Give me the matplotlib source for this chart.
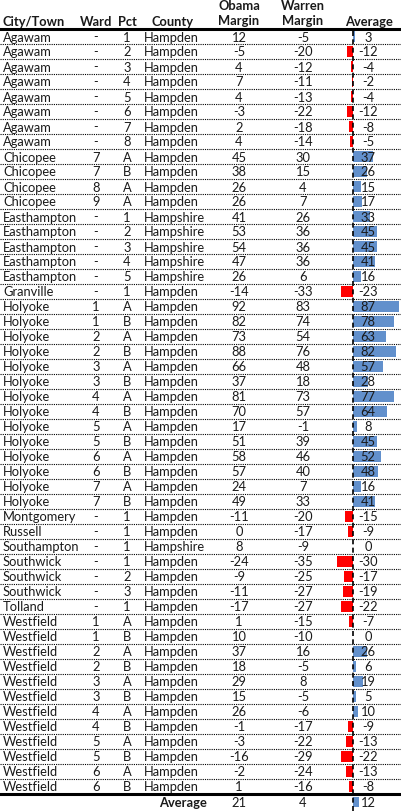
import numpy as np
import matplotlib
matplotlib.use('Agg')
import matplotlib.pyplot as plt

plt.rcParams['font.family'] = ['Lato', 'DejaVu Sans']

# ---- table data ----
towns = ['Agawam'] * 8 + ['Chicopee'] * 4 + ['Easthampton'] * 5 + ['Granville'] + \
        ['Holyoke'] * 14 + ['Montgomery', 'Russell', 'Southampton'] + ['Southwick'] * 3 + \
        ['Tolland'] + ['Westfield'] * 12
wards = ['-'] * 8 + ['7', '7', '8', '9'] + ['-'] * 6 + \
        ['1', '1', '2', '2', '3', '3', '4', '4', '5', '5', '6', '6', '7', '7'] + \
        ['-'] * 7 + ['1', '1', '2', '2', '3', '3', '4', '4', '5', '5', '6', '6']
pcts = ['1', '2', '3', '4', '5', '6', '7', '8'] + ['A', 'B', 'A', 'A'] + \
       ['1', '2', '3', '4', '5'] + ['1'] + ['A', 'B'] * 7 + ['1', '1', '1'] + \
       ['1', '2', '3'] + ['1'] + ['A', 'B'] * 6
counties = ['Hampden'] * 12 + ['Hampshire'] * 5 + ['Hampden'] * 17 + ['Hampshire'] + \
           ['Hampden'] * 16
obama = [12, -5, 4, 7, 4, -3, 2, 4, 45, 38, 26, 26, 41, 53, 54, 47, 26, -14,
         92, 82, 73, 88, 66, 37, 81, 70, 17, 51, 58, 57, 24, 49,
         -11, 0, 8, -24, -9, -11, -17,
         1, 10, 37, 18, 29, 15, 26, -1, -3, -16, -2, 1]
warren = [-5, -20, -12, -11, -13, -22, -18, -14, 30, 15, 4, 7, 26, 36, 36, 36, 6, -33,
          83, 74, 54, 76, 48, 18, 73, 57, -1, 39, 46, 40, 7, 33,
          -20, -17, -9, -35, -25, -27, -27,
          -15, -10, 16, -5, 8, -5, -6, -17, -22, -29, -24, -16]
average = [3, -12, -4, -2, -4, -12, -8, -5, 37, 26, 15, 17, 33, 45, 45, 41, 16, -23,
           87, 78, 63, 82, 57, 28, 77, 64, 8, 45, 52, 48, 16, 41,
           -15, -9, 0, -30, -17, -19, -22,
           -7, 0, 26, 6, 19, 5, 10, -9, -13, -22, -13, -8]
avg_obama, avg_warren, avg_avg = 21, 4, 12

W, H = 402, 812
fig = plt.figure(figsize=(W / 100, H / 100), dpi=100)

top = 30
rh = 15
n = len(towns)
fs = 9.3
tc = '#1a1a1a'
yc = top + rh * (np.arange(n) + 0.5)

# bars in their own axes, 0 at x=353
bx0 = 300
axb = fig.add_axes([bx0 / W, 0, 1 - bx0 / W, 1])
axb.set_ylim(H, 0)
axb.set_xlim(-100, 92.5)
axb.axis('off')
cols = ['#6290CC' if v > 0 else '#FF0000' for v in average]
axb.barh(yc, average, height=10.5, color=cols, linewidth=0)
axb.barh([top + rh * n + 8], [avg_avg], height=10.5, color='#6290CC', linewidth=0)
axb.axvline(0, ymin=0, ymax=1 - top / H, color='black', lw=1.2, ls=(0, (3, 2)))

# text layer on top of bars
axt = fig.add_axes([0, 0, 1, 1])
axt.set_xlim(0, W)
axt.set_ylim(H, 0)
axt.axis('off')
axt.patch.set_alpha(0)

hdr = dict(fontsize=fs, fontweight='bold', va='center', color=tc)
axt.text(3, 22, 'City/Town', ha='left', **hdr)
axt.text(96, 22, 'Ward', ha='center', **hdr)
axt.text(127, 22, 'Pct', ha='center', **hdr)
axt.text(173, 22, 'County', ha='center', **hdr)
axt.text(239, 6, 'Obama', ha='center', **hdr)
axt.text(239, 21, 'Margin', ha='center', **hdr)
axt.text(303, 6, 'Warren', ha='center', **hdr)
axt.text(303, 21, 'Margin', ha='center', **hdr)
axt.text(369, 22, 'Average', ha='center', **hdr)

cell = dict(va='center', fontsize=fs, color=tc)
for i in range(n):
    y = yc[i]
    axt.text(3, y, towns[i], ha='left', **cell)
    axt.text(96, y, wards[i], ha='center', **cell)
    axt.text(127, y, pcts[i], ha='center', **cell)
    axt.text(144, y, counties[i], ha='left', **cell)
    axt.text(239, y, str(obama[i]), ha='center', **cell)
    axt.text(303, y, str(warren[i]), ha='center', **cell)
    axt.text(368, y, str(average[i]), ha='center', **cell)
    if i > 0:
        axt.plot([0, W], [top + rh * i] * 2, color='black', lw=0.8, ls=(0, (1, 1)))

ya = top + rh * n + 8
axt.text(183, ya, 'Average', ha='center', fontweight='bold', **cell)
axt.text(239, ya, str(avg_obama), ha='center', **cell)
axt.text(303, ya, str(avg_warren), ha='center', **cell)
axt.text(368, ya, str(avg_avg), ha='center', **cell)

axt.plot([0, W], [top, top], color='black', lw=2.2)
axt.plot([0, W], [top + rh * n, top + rh * n], color='black', lw=2.2)

fig.savefig('out.png', dpi=100)
